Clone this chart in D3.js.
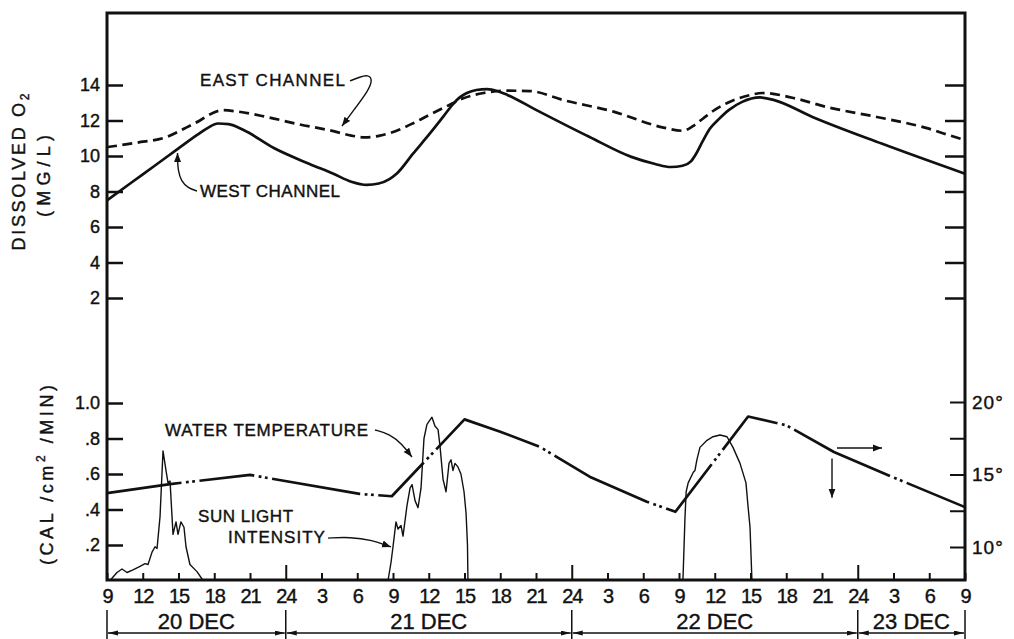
<!DOCTYPE html>
<html>
<head>
<meta charset="utf-8">
<script src="https://cdn.jsdelivr.net/npm/d3@7"></script>
<style>
  html, body { margin: 0; padding: 0; background: #fff; }
  svg { display: block; font-family: "Liberation Sans", Arial, sans-serif; }
  svg text { stroke: #111; stroke-width: 0.4px; }
</style>
</head>
<body>
<svg id="chart" width="1014" height="639"></svg>
<script>
// ---- Time axis: hours counted from 20 Dec 09:00 ----
const hourLabels = ["9","12","15","18","21","24","3","6","9","12","15","18","21","24",
                    "3","6","9","12","15","18","21","24","3","6","9"];
const dayNames  = ["20 DEC", "21 DEC", "22 DEC", "23 DEC"];
const dayBounds = [0, 15, 39, 63, 72];

// ---- Axis ticks ----
const o2Ticks        = [2, 4, 6, 8, 10, 12, 14];
const sunTicks       = [0.2, 0.4, 0.6, 0.8, 1.0];
const sunTickLabels  = [".2", ".4", ".6", ".8", "1.0"];
const tempTicks      = [10, 12.5, 15, 17.5, 20];
const tempTickLabels = ["10°", "", "15°", "", "20°"];

// ---- Dissolved oxygen, mg/L  [hour, value] ----
const westChannel = [
  [0,7.5],[2,8.48],[4,9.45],[6,10.43],[7.6,11.2],[8.5,11.6],[9.3,11.83],[10.2,11.8],
  [11.5,11.45],[14,10.45],[17,9.55],[19,9.0],[20.5,8.55],[21.8,8.37],[22.8,8.45],
  [23.7,8.7],[24.3,9.0],[25.7,10.15],[27.1,11.27],[28.2,12.2],[29,12.9],[29.6,13.3],
  [30.2,13.55],[31,13.72],[31.9,13.77],[32.8,13.65],[33.6,13.44],[36,12.6],[40.5,11.07],
  [44,9.95],[46,9.55],[47.3,9.38],[48.3,9.45],[49,9.7],[49.5,10.2],[50,10.85],[50.6,11.55],
  [51.3,12.05],[52.2,12.6],[53.3,13.05],[54.8,13.3],[56,13.15],[59.2,12.2],[65,10.7],[72,9.0]
];
const eastChannel = [
  [0,10.5],[2.5,10.75],[5,11.07],[6.5,11.55],[7.8,12.0],[8.8,12.4],[9.7,12.58],[11,12.5],
  [13.4,12.2],[16,11.8],[19,11.4],[20.5,11.15],[21.6,11.05],[22.9,11.15],[24.2,11.4],
  [25.7,11.85],[27,12.3],[28.5,12.8],[29.9,13.25],[31.6,13.55],[33.6,13.68],[35.5,13.66],
  [38.3,13.15],[42.5,12.5],[46.7,11.6],[48.3,11.42],[49.2,11.7],[50,12.1],[51,12.6],
  [52,12.97],[54,13.44],[55,13.55],[57.6,13.27],[60.4,12.76],[64.6,12.2],[68.8,11.57],
  [70.2,11.27],[72,10.9]
];

// ---- Water temperature, °C  [hour, value] ----
const waterTemp = [
  [0,13.72],[5.3,14.34],[12,14.97],[21.2,13.66],[23.9,13.5],[30,18.8],[33,17.95],
  [36.3,16.92],[40.5,14.85],[45.3,13.12],[47.7,12.43],[53.8,19.0],[57,18.4],[61,16.55],
  [66,14.8],[72,12.75]
];
// hours where the temperature trace is interrupted by its dash-dot marks
const tempBreaks = [7, 13.1, 22, 27.1, 36.9, 46.2, 51.2, 57, 66.4];

// ---- Sun light intensity, cal/cm²/min  [hour, value] ----
const sunDec20 = [
  [0.25,0],[0.84,0.045],[1.26,0.065],[1.68,0.045],[2.18,0.06],[2.77,0.08],[3.19,0.095],
  [3.44,0.09],[3.78,0.16],[4.03,0.19],[4.2,0.18],[4.45,0.36],[4.7,0.73],[4.95,0.62],
  [5.12,0.55],[5.29,0.56],[5.54,0.26],[5.79,0.33],[5.96,0.26],[6.2,0.33],[6.46,0.3],
  [6.63,0.19],[6.96,0.09],[7.55,0.05],[8.06,0]
];
const sunDec21 = [
  [23.58,0],[23.83,0.1],[24.0,0.19],[24.25,0.33],[24.42,0.29],[24.67,0.31],[24.84,0.25],
  [25.17,0.42],[25.43,0.52],[25.6,0.54],[25.85,0.45],[26.1,0.41],[26.35,0.52],[26.6,0.8],
  [26.85,0.88],[27.27,0.92],[27.52,0.87],[27.78,0.85],[27.94,0.76],[28.2,0.57],[28.45,0.5],
  [28.7,0.66],[28.87,0.68],[29.03,0.62],[29.2,0.66],[29.45,0.64],[29.7,0.6],[29.96,0.5],
  [30.13,0.38],[30.25,0.2],[30.29,0]
];
const sunDec22 = [
  [48.33,0],[48.5,0.35],[48.6,0.5],[48.77,0.55],[49.2,0.61],[49.34,0.62],[49.5,0.68],
  [49.76,0.75],[50.35,0.79],[50.85,0.81],[51.44,0.82],[52.03,0.81],[52.53,0.75],
  [53.12,0.66],[53.62,0.55],[53.79,0.42],[53.96,0.3],[54.12,0]
];

// ---- Layout ----
const W = 1014, H = 639;
const plotLeft = 107, plotRight = 965, plotTop = 13, plotBottom = 580;

const x     = d3.scaleLinear().domain([0, 72]).range([plotLeft, plotRight]);
const yO2   = d3.scaleLinear().domain([0, 14]).range([333.5, 85]);
const ySun  = d3.scaleLinear().domain([0, 1]).range([580.5, 403]);
const yTemp = d3.scaleLinear().domain([10, 20]).range([547, 402]);

const ink = "#111";
const svg = d3.select("#chart");
svg.append("rect").attr("width", W).attr("height", H).attr("fill", "#fff");

// arrowheads
const defs = svg.append("defs");
defs.append("marker").attr("id", "head")
  .attr("markerUnits", "userSpaceOnUse").attr("markerWidth", 10).attr("markerHeight", 8)
  .attr("refX", 9).attr("refY", 3.5).attr("orient", "auto")
  .append("path").attr("d", "M0,0 L9,3.5 L0,7 Z").attr("fill", ink);
defs.append("marker").attr("id", "bhead")
  .attr("markerUnits", "userSpaceOnUse").attr("markerWidth", 11).attr("markerHeight", 6)
  .attr("refX", 10).attr("refY", 2.5).attr("orient", "auto-start-reverse")
  .append("path").attr("d", "M0,0 L10,2.5 L0,5 Z").attr("fill", ink);

function styleAxis(g, size, sw) {
  g.select(".domain").remove();
  g.selectAll(".tick line").attr("stroke", ink).attr("stroke-width", sw);
  g.selectAll(".tick text").attr("fill", ink).attr("font-size", size)
    .attr("font-family", "'Liberation Sans', Arial, sans-serif");
}

// left axes
const axO2 = svg.append("g").attr("transform", `translate(${plotLeft},0)`)
  .call(d3.axisLeft(yO2).tickValues(o2Ticks).tickSize(-16).tickPadding(7).tickFormat(d3.format("d")));
styleAxis(axO2, 18, 2.5);

const axSun = svg.append("g").attr("transform", `translate(${plotLeft},0)`)
  .call(d3.axisLeft(ySun).tickValues(sunTicks).tickSize(-16).tickPadding(7)
        .tickFormat((d, i) => sunTickLabels[i]));
styleAxis(axSun, 18, 2.5);

// right axes
const axO2R = svg.append("g").attr("transform", `translate(${plotRight},0)`)
  .call(d3.axisRight(yO2).tickValues(o2Ticks).tickSize(-20).tickFormat(() => ""));
styleAxis(axO2R, 18, 2.5);

const axTemp = svg.append("g").attr("transform", `translate(${plotRight},0)`)
  .call(d3.axisRight(yTemp).tickValues(tempTicks).tickSize(-15).tickPadding(7)
        .tickFormat((d, i) => tempTickLabels[i]));
styleAxis(axTemp, 19, 2);
axTemp.selectAll(".tick text").attr("letter-spacing", 1);

// time axis
const axTime = svg.append("g").attr("transform", `translate(0,${plotBottom})`)
  .call(d3.axisBottom(x).tickValues(d3.range(0, 73, 3)).tickSize(-7).tickPadding(9)
        .tickFormat((d, i) => hourLabels[i]));
styleAxis(axTime, 20, 2);
axTime.selectAll(".tick text").attr("letter-spacing", -1.2);
axTime.selectAll(".tick line").filter((d, i) => hourLabels[i] === "24").attr("y2", -15);

// ---- Dissolved oxygen curves ----
const o2Line = d3.line().x(d => x(d[0])).y(d => yO2(d[1])).curve(d3.curveMonotoneX);
svg.append("path").datum(eastChannel).attr("d", o2Line)
  .attr("fill", "none").attr("stroke", ink).attr("stroke-width", 2.7)
  .attr("stroke-dasharray", "10 5.5");
svg.append("path").datum(westChannel).attr("d", o2Line)
  .attr("fill", "none").attr("stroke", ink).attr("stroke-width", 2.7);

// ---- Sun light traces ----
const sunLine = d3.line().x(d => x(d[0])).y(d => ySun(d[1]));
[sunDec20, sunDec21, sunDec22].forEach(day => {
  svg.append("path").datum(day).attr("d", sunLine)
    .attr("fill", "none").attr("stroke", ink).attr("stroke-width", 1.4)
    .attr("stroke-linejoin", "round");
});

// ---- Water temperature (solid with dash-dot interruptions) ----
const tempLine = d3.line().x(d => x(d[0])).y(d => yTemp(d[1]));
const tempPath = svg.append("path").datum(waterTemp).attr("d", tempLine)
  .attr("fill", "none").attr("stroke", ink).attr("stroke-width", 2.7)
  .attr("stroke-linejoin", "round");
{
  const node = tempPath.node();
  const total = node.getTotalLength();
  const lengthAtX = px => {
    let lo = 0, hi = total;
    for (let k = 0; k < 40; k++) {
      const mid = (lo + hi) / 2;
      if (node.getPointAtLength(mid).x < px) lo = mid; else hi = mid;
    }
    return (lo + hi) / 2;
  };
  const dash = [];
  let cursor = 0;
  tempBreaks.forEach(b => {
    const start = lengthAtX(x(b)) - 9;
    dash.push(Math.max(0.1, start - cursor), 4.5, 2.8, 3.5, 2.8, 4.5);
    cursor = start + 18.1;
  });
  dash.push(total - cursor + 20, 1);
  tempPath.attr("stroke-dasharray", dash.join(" "));
}

// ---- Frame ----
svg.append("rect").attr("x", plotLeft).attr("y", plotTop)
  .attr("width", plotRight - plotLeft).attr("height", plotBottom - plotTop)
  .attr("fill", "none").attr("stroke", ink).attr("stroke-width", 3);

// ---- Annotations ----
const label = (px, py, txt, len, size = 17) =>
  svg.append("text").attr("x", px).attr("y", py).attr("font-size", size).attr("fill", ink)
    .attr("textLength", len).attr("lengthAdjust", "spacing").text(txt);

const leader = (pts, yScale, withHead = true) => {
  const p = svg.append("path")
    .attr("d", d3.line().x(d => x(d[0])).y(d => yScale(d[1])).curve(d3.curveBasis)(pts))
    .attr("fill", "none").attr("stroke", ink).attr("stroke-width", 1.4);
  if (withHead) p.attr("marker-end", "url(#head)");
  return p;
};

label(x(7.8), yO2(13.94), "EAST CHANNEL", 145);
leader([[20.39,14.23],[21.23,14.45],[21.9,14.58],[22.3,14.3],[21.9,13.66],[20.9,12.76],[19.72,11.69]], yO2);

label(x(7.8), yO2(7.69), "WEST CHANNEL", 140);
leader([[7.55,8.03],[6.8,8.2],[6.21,8.59],[5.96,9.21],[5.92,9.77],[5.92,10.17]], yO2);

label(x(4.87), yTemp(17.66), "WATER TEMPERATURE", 203);
leader([[22.49,18.07],[23.75,17.79],[24.75,17.1],[25.59,16.21]], yTemp);

label(x(7.64), ySun(0.33), "SUN LIGHT", 95);
label(x(10.15), ySun(0.211), "INTENSITY", 97);
leader([[18.55,0.239],[20.39,0.245],[22.24,0.228],[23.83,0.189]], ySun);

// direction arrows near the right axis
leader([[61.26,16.83],[65.03,16.83]], yTemp);
leader([[60.84,16.1],[60.84,13.4]], yTemp);

// ---- Axis titles ----
const t1 = svg.append("text").attr("transform", "translate(25,172) rotate(-90)")
  .attr("text-anchor", "middle").attr("font-size", 18).attr("fill", ink)
  .attr("textLength", 157).attr("lengthAdjust", "spacing");
t1.append("tspan").text("DISSOLVED O");
t1.append("tspan").attr("font-size", 12).attr("dy", 4).text("2");

svg.append("text").attr("transform", "translate(50,176) rotate(-90)")
  .attr("text-anchor", "middle").attr("font-size", 18).attr("fill", ink)
  .attr("textLength", 82).attr("lengthAdjust", "spacing").text("(MG/L)");

const t3 = svg.append("text").attr("transform", "translate(53,475) rotate(-90)")
  .attr("text-anchor", "middle").attr("font-size", 18).attr("fill", ink)
  .attr("textLength", 180).attr("lengthAdjust", "spacing");
t3.append("tspan").text("(CAL /cm");
t3.append("tspan").attr("font-size", 12).attr("dy", -8).text("2");
t3.append("tspan").attr("dy", 8).text(" /MIN)");

// ---- Date brackets ----
const dateG = svg.append("g");
dayBounds.forEach(b => {
  dateG.append("line").attr("x1", x(b)).attr("x2", x(b)).attr("y1", 610).attr("y2", 639)
    .attr("stroke", ink).attr("stroke-width", 1.5);
});
dayNames.forEach((name, i) => {
  const a = x(dayBounds[i]), b = x(dayBounds[i + 1]);
  dateG.append("line").attr("x1", a + 1).attr("x2", b - 1).attr("y1", 633).attr("y2", 633)
    .attr("stroke", ink).attr("stroke-width", 1.3)
    .attr("marker-start", "url(#bhead)").attr("marker-end", "url(#bhead)");
  dateG.append("text").attr("x", (a + b) / 2).attr("y", 629).attr("text-anchor", "middle")
    .attr("font-size", 22).attr("fill", ink).text(name);
});
</script>
</body>
</html>
